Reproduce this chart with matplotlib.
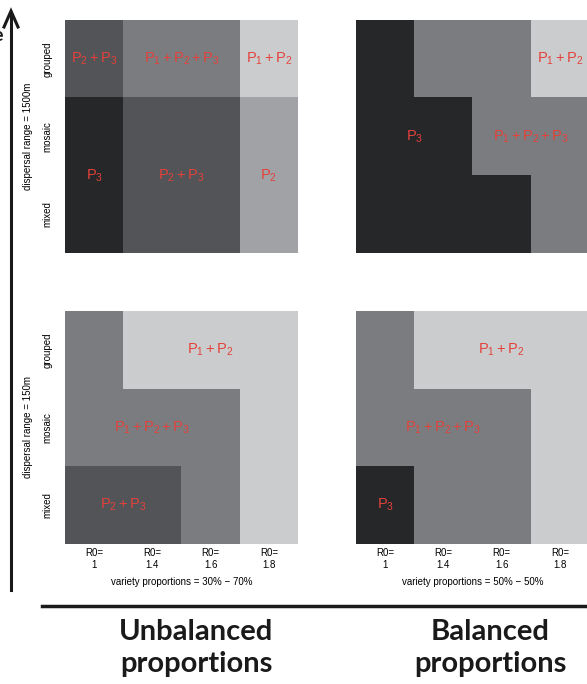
import numpy as np
import matplotlib.pyplot as plt
from matplotlib.colors import ListedColormap

plt.rcParams['font.family'] = 'Liberation Sans'
plt.rcParams['mathtext.fontset'] = 'custom'
plt.rcParams['mathtext.rm'] = 'Liberation Sans'
plt.rcParams['mathtext.it'] = 'Liberation Sans'

# grey shades: 0 darkest ... 4 lightest
shades = ['#262729', '#535458', '#7b7c80', '#a0a2a6', '#cbcccd']
cmap = ListedColormap(shades)

r0_labels = ['R0=\n1', 'R0=\n1.4', 'R0=\n1.6', 'R0=\n1.8']
rows = ['grouped', 'mosaic', 'mixed']

# grids, rows from top (grouped) to bottom (mixed), columns R0 = 1, 1.4, 1.6, 1.8
unbal_1500 = [[1, 2, 2, 4],
              [0, 1, 1, 3],
              [0, 1, 1, 3]]
bal_1500 = [[0, 2, 2, 4],
            [0, 0, 2, 2],
            [0, 0, 0, 2]]
unbal_150 = [[2, 4, 4, 4],
             [2, 2, 2, 4],
             [1, 1, 2, 4]]
bal_150 = [[2, 4, 4, 4],
           [2, 2, 2, 4],
           [0, 2, 2, 4]]

# region labels: (column position, row position, text)
unbal_1500_lab = [(0, 0, r'$\mathregular{P_2+P_3}$'), (1.5, 0, r'$\mathregular{P_1+P_2+P_3}$'),
                  (3, 0, r'$\mathregular{P_1+P_2}$'), (0, 1.5, r'$\mathregular{P_3}$'),
                  (1.5, 1.5, r'$\mathregular{P_2+P_3}$'), (3, 1.5, r'$\mathregular{P_2}$')]
bal_1500_lab = [(3, 0, r'$\mathregular{P_1+P_2}$'), (0.5, 1, r'$\mathregular{P_3}$'),
                (2.5, 1, r'$\mathregular{P_1+P_2+P_3}$')]
unbal_150_lab = [(2, 0, r'$\mathregular{P_1+P_2}$'), (1, 1, r'$\mathregular{P_1+P_2+P_3}$'),
                 (0.5, 2, r'$\mathregular{P_2+P_3}$')]
bal_150_lab = [(2, 0, r'$\mathregular{P_1+P_2}$'), (1, 1, r'$\mathregular{P_1+P_2+P_3}$'),
               (0, 2, r'$\mathregular{P_3}$')]

fig = plt.figure(figsize=(5.87, 6.84), dpi=100)
W, H = 587, 684


def panel(x0, y0, grid, labels, left_labels=None, bottom_label=None):
    ax = fig.add_axes([x0 / W, 1 - (y0 + 233) / H, 233 / W, 233 / H])
    ax.imshow(np.array(grid), cmap=cmap, vmin=-0.5, vmax=4.5, aspect='auto',
              extent=(-0.5, 3.5, 2.5, -0.5), interpolation='nearest')
    for cx, cy, s in labels:
        ax.text(cx, cy, s, color='#e5413a', fontsize=10.5, ha='center', va='center')
    for sp in ax.spines.values():
        sp.set_visible(False)
    ax.tick_params(length=0, labelsize=7, pad=3)
    if bottom_label:
        ax.set_xticks(range(4))
        ax.set_xticklabels(r0_labels, linespacing=1.2)
        ax.set_xlabel(bottom_label, fontsize=7, labelpad=5)
    else:
        ax.set_xticks([])
    if left_labels:
        ax.set_yticks(range(3))
        ax.set_yticklabels(rows, rotation=90, va='center')
        ax.tick_params(axis='y', pad=9)
        ax.set_ylabel(left_labels, fontsize=7, labelpad=7)
    else:
        ax.set_yticks([])
    ax.set_xlim(-0.5, 3.5)
    ax.set_ylim(2.5, -0.5)
    return ax


panel(65, 20, unbal_1500, unbal_1500_lab, left_labels='dispersal range = 1500m')
panel(356, 20, bal_1500, bal_1500_lab)
panel(65, 311, unbal_150, unbal_150_lab, left_labels='dispersal range = 150m',
      bottom_label='variety proportions = 30% \u2212 70%')
panel(356, 311, bal_150, bal_150_lab, bottom_label='variety proportions = 50% \u2212 50%')

# vertical arrow and horizontal line
fig.add_artist(plt.Line2D([11 / W, 11 / W], [1 - 590 / H, 1 - 14 / H], color='#1a1a1a', lw=2.2))
fig.add_artist(plt.Line2D([4 / W, 11 / W, 18 / W], [1 - 27 / H, 1 - 11 / H, 1 - 27 / H],
                          color='#1a1a1a', lw=2.2, solid_joinstyle='miter'))
fig.add_artist(plt.Line2D([42 / W, 1.0], [1 - 606 / H, 1 - 606 / H], color='#1a1a1a', lw=2.5))

# axis title, cut off at the left edge in the original (only the last letter shows)
fig.text(4 / W, 1 - 41 / H, 'Scale', ha='right', va='baseline', fontsize=14,
         fontweight='bold', family='Lato', color='#1a1a1a')

fig.text(196 / W, 1 - 648 / H, 'Unbalanced\nproportions', ha='center', va='center',
         fontsize=21, fontweight='bold', family='Lato', color='#1a1a1a', linespacing=1.3)
fig.text(490 / W, 1 - 648 / H, 'Balanced\nproportions', ha='center', va='center',
         fontsize=21, fontweight='bold', family='Lato', color='#1a1a1a', linespacing=1.3)

fig.savefig('out.png', dpi=100)
